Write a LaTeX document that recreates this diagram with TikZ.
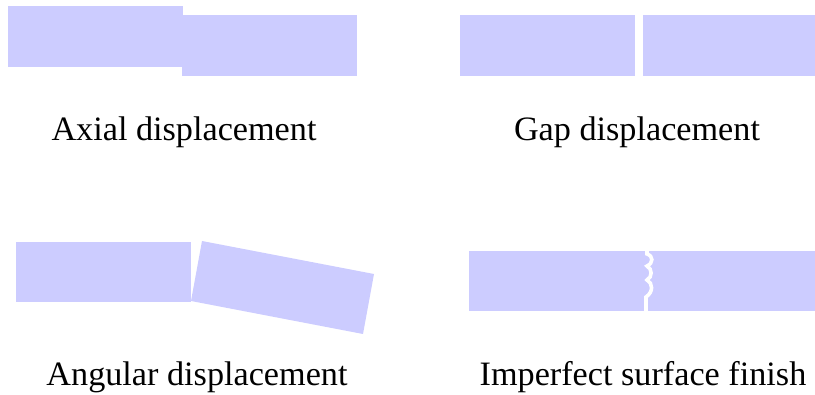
\documentclass[tikz,border=0pt]{standalone}
\usepackage{fontspec}
\setmainfont{Liberation Serif}
\begin{document}
\begin{tikzpicture}[x=1pt,y=-1pt,
  part/.style={fill=partfill},
  caption/.style={anchor=base,inner sep=0pt,font=\fontsize{34.2}{38}\selectfont}]
\definecolor{partfill}{RGB}{204,204,255}
\useasboundingbox (0,0) rectangle (815,395);
% axial displacement
\fill[part] (8,6) rectangle (183,67);
\fill[part] (182,15) rectangle (357,76);
\node[caption] (axial) at (184,141) {Axial displacement};
% gap displacement
\fill[part] (460,15) rectangle (635,76);
\fill[part] (643,15) rectangle (815,76);
\node[caption] (gap) at (637,141) {Gap displacement};
% angular displacement
\fill[part] (16,242) rectangle (191,302);
\fill[part] (202,241) -- (374,274) -- (363,334) -- (191,301) -- cycle;
\node[caption] (angular) at (197,386) {Angular displacement};
% imperfect surface finish: two parts separated by a rough seam
\fill[part] (469,251) rectangle (815,311);
\draw[white,line width=3.6pt] (647,249) -- (647,254)
  .. controls (653.5,256) and (653.5,263) .. (647,266)
  .. controls (652.5,269) and (652.5,277) .. (647,280)
  .. controls (653,283) and (653.5,292) .. (646,297) -- (646,313);
\node[caption] (imperfect) at (643,386) {Imperfect surface finish};
\end{tikzpicture}
\end{document}
